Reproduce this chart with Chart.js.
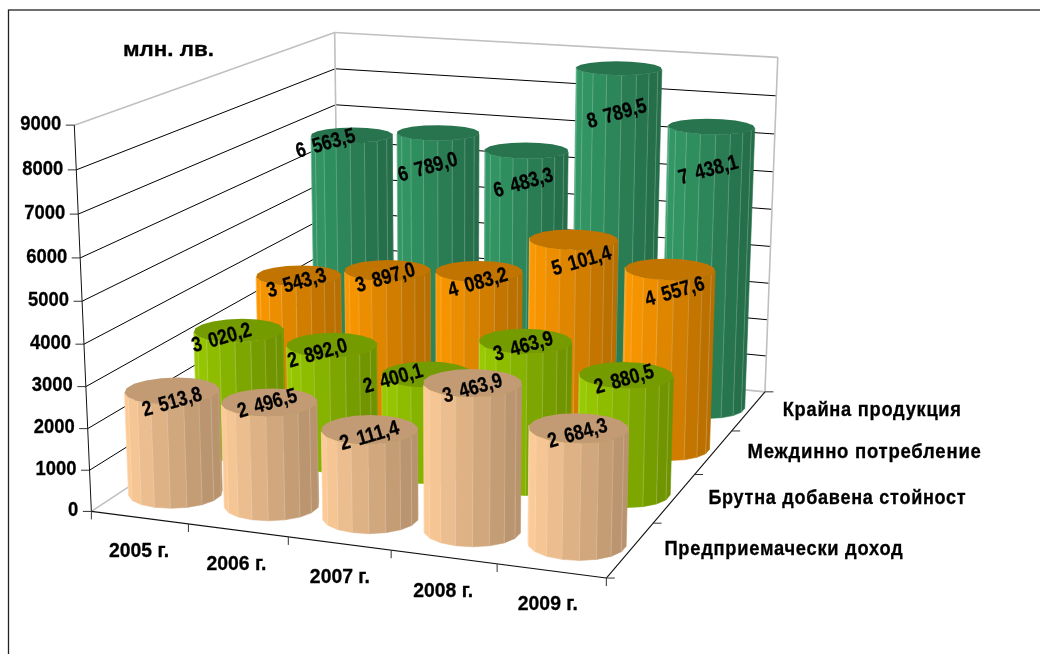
<!DOCTYPE html>
<html><head><meta charset="utf-8">
<style>html,body{margin:0;padding:0;background:#fff}canvas{display:block}</style>
<script src="https://cdn.jsdelivr.net/npm/chart.js@4/dist/chart.umd.min.js"></script>
</head><body><canvas id="c" width="1040" height="654"></canvas>
<script>
const categories = ['2005 г.','2006 г.','2007 г.','2008 г.','2009 г.'];
const seriesNames = ['Предприемачески доход','Брутна добавена стойност','Междинно потребление','Крайна продукция'];
const entrepreneurial = [2513.8,2496.5,2111.4,3463.9,2684.3];
const grossValueAdded = [3020.2,2892.0,2400.1,3463.9,2880.5];
const intermediate = [3543.3,3897.0,4083.2,5101.4,4557.6];
const finalOutput = [6563.5,6789.0,6483.3,8789.5,7438.1];
const colors = ['#FFCC99','#99CC00','#FF9900','#339966'];
const unit = 'млн. лв.';

// camera: box corners (u,w,v) -> screen
const corners = [[0,0,0,91.5,513],[0,0,1,74.5,124.5],[1,0,0,606,577],[0,1,0,339,347],[0,1,1,334.3,33.3],[1,1,0,765,393],[1,1,1,778,57]];
function solve(A,b){const n=b.length;for(let i=0;i<n;i++){let m=i;for(let r=i+1;r<n;r++)if(Math.abs(A[r][i])>Math.abs(A[m][i]))m=r;[A[i],A[m]]=[A[m],A[i]];[b[i],b[m]]=[b[m],b[i]];for(let r=i+1;r<n;r++){const f=A[r][i]/A[i][i];for(let c=i;c<n;c++)A[r][c]-=f*A[i][c];b[r]-=f*b[i];}}const x=Array(n).fill(0);for(let i=n-1;i>=0;i--){let s=b[i];for(let c=i+1;c<n;c++)s-=A[i][c]*x[c];x[i]=s/A[i][i];}return x;}
const P=(()=>{const R=[],B=[];for(const [X,Y,Z,x,y] of corners){R.push([X,Y,Z,1,0,0,0,0,-x*X,-x*Y,-x*Z]);B.push(x);R.push([0,0,0,0,X,Y,Z,1,-y*X,-y*Y,-y*Z]);B.push(y);}
const n=11,A=Array.from({length:n},()=>Array(n).fill(0)),b=Array(n).fill(0);for(let k=0;k<R.length;k++)for(let i=0;i<n;i++){b[i]+=R[k][i]*B[k];for(let j=0;j<n;j++)A[i][j]+=R[k][i]*R[k][j];}return solve(A,b);})();
function proj(u,w,v){const d=P[8]*u+P[9]*w+P[10]*v+1;return [(P[0]*u+P[1]*w+P[2]*v+P[3])/d,(P[4]*u+P[5]*w+P[6]*v+P[7])/d];}

function shade(hex,f){const n=parseInt(hex.slice(1),16);return `rgb(${Math.round((n>>16&255)*f)},${Math.round((n>>8&255)*f)},${Math.round((n&255)*f)})`;}
const FACETS=18, RU=0.089, RW=0.074;
const labelOffsets=[[[0,12],[-2,2],[0,7],[0,6],[-1,6]],[[-17,8],[-14,9],[-34,5],[-2,6],[-2,5]],[[-2,8],[-2,8],[-1,12],[8,22],[5,23]],[[-26,9],[-10,35],[-3,33],[-2,46],[-3,44]]];
const catOffsets=[0,-1,1,0,-3];
const fmt=v=>{const s=v.toFixed(1).replace('.',',');return s.length>5?s.slice(0,-5)+' '+s.slice(-5):s;};
function seg(ctx,a,b,col,w){ctx.strokeStyle=col;ctx.lineWidth=w;ctx.beginPath();ctx.moveTo(a[0],a[1]);ctx.lineTo(b[0],b[1]);ctx.stroke();}
function text(ctx,s,x,y,size,align,width,rot,spacing,wordGap){ctx.save();ctx.font=`bold ${size}px "Liberation Sans", Arial, sans-serif`;ctx.fillStyle='#000';ctx.strokeStyle='#000';ctx.lineWidth=.3;ctx.textBaseline='middle';ctx.textAlign=align;ctx.letterSpacing=(spacing||0)+'px';ctx.wordSpacing=(wordGap||0)+'px';const m=ctx.measureText(s).width;ctx.translate(x,y);if(rot)ctx.rotate(rot);ctx.scale(width?width/m:1,1);ctx.fillText(s,0,0);ctx.strokeText(s,0,0);ctx.restore();}

const cyl={id:'cyl',
 beforeDatasetsDraw(ch){
  const c=ch.ctx,xs=ch.scales.x,ys=ch.scales.y,a=ch.chartArea;
  const V=val=>(a.bottom-ys.getPixelForValue(val))/(a.bottom-a.top);
  const n=categories.length,S=seriesNames.length;
  c.save();c.strokeStyle='#222';c.lineWidth=1.3;c.strokeRect(8.5,10,1200,1000);c.restore();
  c.lineCap='butt';
  // walls grid
  ys.ticks.forEach(t=>{const v=V(t.value);const A=proj(0,0,v),B=proj(0,1,v),C=proj(1,1,v);
    const top=t.value===ys.max,bot=t.value===ys.min;
    const col=(top||bot)?'#c0c0c0':'#000',w=(top||bot)?1.6:1;
    seg(c,A,B,col,w);seg(c,B,C,col,w);
    seg(c,[A[0]-8.5,A[1]],A,'#333',1);
    const lab=String(t.value);
    text(c,lab,A[0]-13,A[1]-1,21,'right',lab.length*10.25);
  });
  seg(c,proj(0,1,0),proj(0,1,1),'#c0c0c0',1.6);seg(c,proj(1,1,0),proj(1,1,1),'#c0c0c0',1.6);
  seg(c,proj(0,0,0),proj(0,0,1),'#111',1);
  seg(c,proj(0,0,0),proj(1,0,0),'#111',1.1);seg(c,proj(1,0,0),proj(1,1,0),'#111',1.1);
  for(let i=0;i<=n;i++){const p=proj(i/n,0,0);seg(c,p,[p[0],p[1]+8],'#333',1);}
  for(let s=0;s<=S;s++){const p=proj(1,s/S,0);seg(c,p,[p[0]+8.5,p[1]],'#333',1);}
  // cylinders back to front
  for(let s=S-1;s>=0;s--){const meta=ch.getDatasetMeta(s),ds=ch.data.datasets[s];const w0=(s+.5)/S;
   meta.data.forEach((el,i)=>{
    const u0=(xs.getPixelForValue(i)-a.left)/(a.right-a.left),v=V(ds.data[i]);
    const pts=[];for(let k=0;k<=FACETS;k++){const ph=(k+.5)/FACETS*2*Math.PI;pts.push({ph,u:u0+RU*Math.cos(ph),w:w0+RW*Math.sin(ph)});}
    for(let k=0;k<FACETS;k++){const a0=pts[k],a1=pts[k+1];const p0=proj(a0.u,a0.w,0),p1=proj(a1.u,a1.w,0),p2=proj(a1.u,a1.w,v),p3=proj(a0.u,a0.w,v);
      const area=(p1[0]-p0[0])*(p3[1]-p0[1])-(p1[1]-p0[1])*(p3[0]-p0[0]);
      if(area>0)continue;
      const mid=(a0.ph+a1.ph)/2,f=1-.28*Math.pow((1+Math.cos(mid))/2,1.5);
      c.fillStyle=shade(ds.baseColor,f);c.strokeStyle=c.fillStyle;c.lineWidth=.6;
      c.beginPath();c.moveTo(...p0);c.lineTo(...p1);c.lineTo(...p2);c.lineTo(...p3);c.closePath();c.fill();c.stroke();
      c.strokeStyle='rgba(255,255,255,.2)';c.lineWidth=1;c.beginPath();c.moveTo(...p0);c.lineTo(...p3);c.stroke();
    }
    c.fillStyle=shade(ds.baseColor,.76);c.beginPath();pts.forEach((q,k)=>{const p=proj(q.u,q.w,v);k?c.lineTo(...p):c.moveTo(...p);});c.closePath();c.fill();
   });
  }
  // labels
  for(let s=S-1;s>=0;s--){const ds=ch.data.datasets[s];const w0=(s+.5)/S;
   ds.data.forEach((val,i)=>{const u0=(xs.getPixelForValue(i)-a.left)/(a.right-a.left);const p=proj(u0,w0,V(val));const o=labelOffsets[s][i];
    text(c,fmt(val),p[0]+o[0],p[1]+o[1],21,'center',61,-16*Math.PI/180,0,3);});
  }
  // axis text
  categories.forEach((l,i)=>{const u0=(xs.getPixelForValue(i)-a.left)/(a.right-a.left);const p=proj(u0,0,0);text(c,l,p[0]-.5+catOffsets[i],p[1]+34,20,'center',60);});
  const sideW=[239,258,234,179];
  seriesNames.forEach((l,s)=>{const p=proj(1,(s+.5)/S,0);text(c,l,p[0]+34,p[1],20,'left',sideW[s],0,.8);});
  text(c,unit,123,50,20,'left',91);
 }};
const ds=[entrepreneurial,grossValueAdded,intermediate,finalOutput].map((d,i)=>({label:seriesNames[i],data:d,baseColor:colors[i],backgroundColor:'rgba(0,0,0,0)',borderWidth:0}));
new Chart(document.getElementById('c'),{type:'bar',data:{labels:categories,datasets:ds},plugins:[cyl],
 options:{responsive:false,animation:false,layout:{padding:0},plugins:{legend:{display:false},tooltip:{enabled:false},title:{display:false}},
 scales:{x:{display:false,offset:true,grid:{display:false}},y:{display:false,min:0,max:9000,ticks:{stepSize:1000},grid:{display:false}}}}});
</script></body></html>
